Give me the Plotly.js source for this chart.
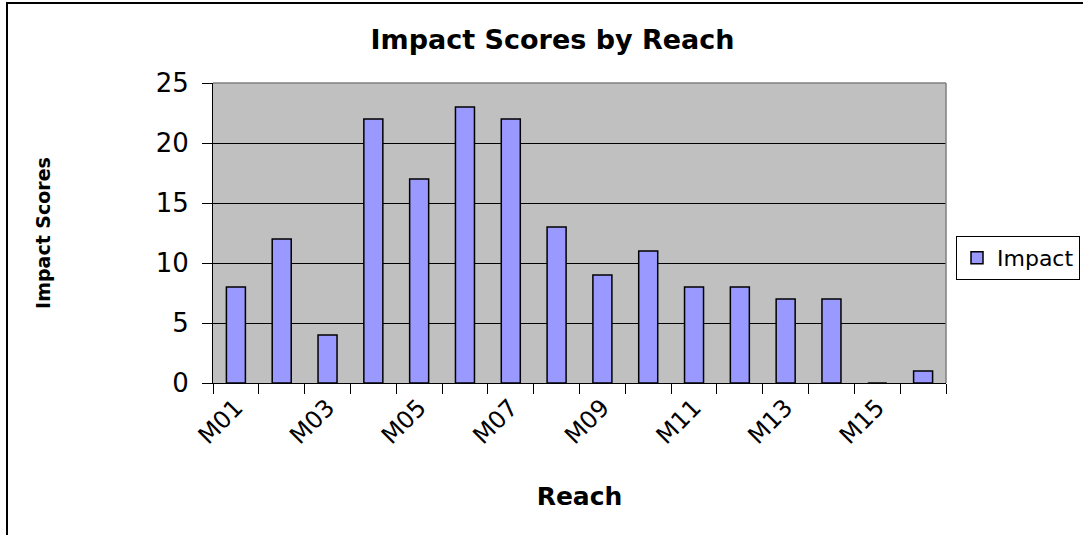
<!DOCTYPE html>
<html>
<head>
<meta charset="utf-8">
<script src="https://cdn.plot.ly/plotly-3.0.1.min.js"></script>
<style>
html,body{margin:0;padding:0;background:#fff;overflow:hidden;}
#chart{position:absolute;left:0;top:0;width:1083px;height:535px;}
#frame{position:absolute;left:6px;top:2px;width:1100px;height:560px;border-left:2px solid #000;border-top:2px solid #000;pointer-events:none;}
</style>
</head>
<body>
<div id="chart"></div>
<div id="frame"></div>
<script>
const reaches = ['M01','M02','M03','M04','M05','M06','M07','M08','M09','M10','M11','M12','M13','M14','M15','M16'];
const impact = [8, 12, 4, 22, 17, 23, 22, 13, 9, 11, 8, 8, 7, 7, 0, 1];
const yTickVals = [0, 5, 10, 15, 20, 25];
const xTickText = reaches.map((r, i) => (i % 2 === 0 ? r : ''));

const FONT = 'DejaVu Sans, Arial, sans-serif';

const trace = {
  type: 'bar',
  name: 'Impact',
  x: reaches,
  y: impact,
  marker: { color: '#9999FF', line: { color: '#000000', width: 1.5 } },
  showlegend: true,
  hoverinfo: 'x+y'
};

const layout = {
  width: 1083,
  height: 535,
  margin: { l: 213, r: 137, t: 83, b: 152 },
  paper_bgcolor: '#FFFFFF',
  plot_bgcolor: '#C0C0C0',
  bargap: 0.585,
  font: { family: FONT, color: '#000000' },
  title: {
    text: '<b>Impact Scores by Reach</b>',
    font: { family: FONT, size: 27, color: '#000000' },
    xref: 'container', x: 0.5102, xanchor: 'center',
    yref: 'container', y: 0.9252, yanchor: 'middle'
  },
  xaxis: {
    type: 'category',
    categoryorder: 'array',
    categoryarray: reaches,
    tickmode: 'array',
    tickvals: reaches,
    ticktext: xTickText,
    tickangle: -45,
    tickson: 'boundaries',
    ticks: 'outside',
    ticklen: 10,
    tickwidth: 1,
    tickcolor: '#000000',
    tickfont: { family: FONT, size: 24, color: '#000000' },
    showline: true,
    linecolor: '#000000',
    linewidth: 1,
    showgrid: false,
    zeroline: false,
    automargin: false,
    fixedrange: true,
    title: {
      text: '<b>Reach</b>',
      font: { family: FONT, size: 25, color: '#000000' },
      standoff: 38
    }
  },
  yaxis: {
    range: [0, 25],
    tickmode: 'array',
    tickvals: yTickVals,
    ticks: 'outside',
    ticklen: 10,
    tickwidth: 1,
    tickcolor: '#000000',
    tickfont: { family: FONT, size: 26, color: '#000000' },
    ticklabelstandoff: 8,
    showline: true,
    linecolor: '#000000',
    linewidth: 1,
    showgrid: true,
    gridcolor: '#000000',
    gridwidth: 1,
    zeroline: false,
    automargin: false,
    fixedrange: true,
    title: {
      text: '<b>Impact Scores</b>',
      font: { family: FONT, size: 19, color: '#000000' },
      standoff: 100
    }
  },
  legend: {
    xref: 'container', x: 956 / 1083, xanchor: 'left',
    yref: 'container', y: 1 - 258 / 535, yanchor: 'middle',
    bgcolor: '#FFFFFF',
    bordercolor: '#000000',
    borderwidth: 1,
    font: { family: FONT, size: 22, color: '#000000' }
  },
  shapes: [
    { type: 'line', xref: 'paper', yref: 'paper', x0: 0, x1: 1, y0: 1, y1: 1, line: { color: '#808080', width: 1.5 }, layer: 'above' },
    { type: 'line', xref: 'paper', yref: 'paper', x0: 1, x1: 1, y0: 0, y1: 1, line: { color: '#808080', width: 1.5 }, layer: 'above' }
  ]
};

Plotly.newPlot('chart', [trace], layout, { displayModeBar: false, staticPlot: true });
</script>
</body>
</html>
